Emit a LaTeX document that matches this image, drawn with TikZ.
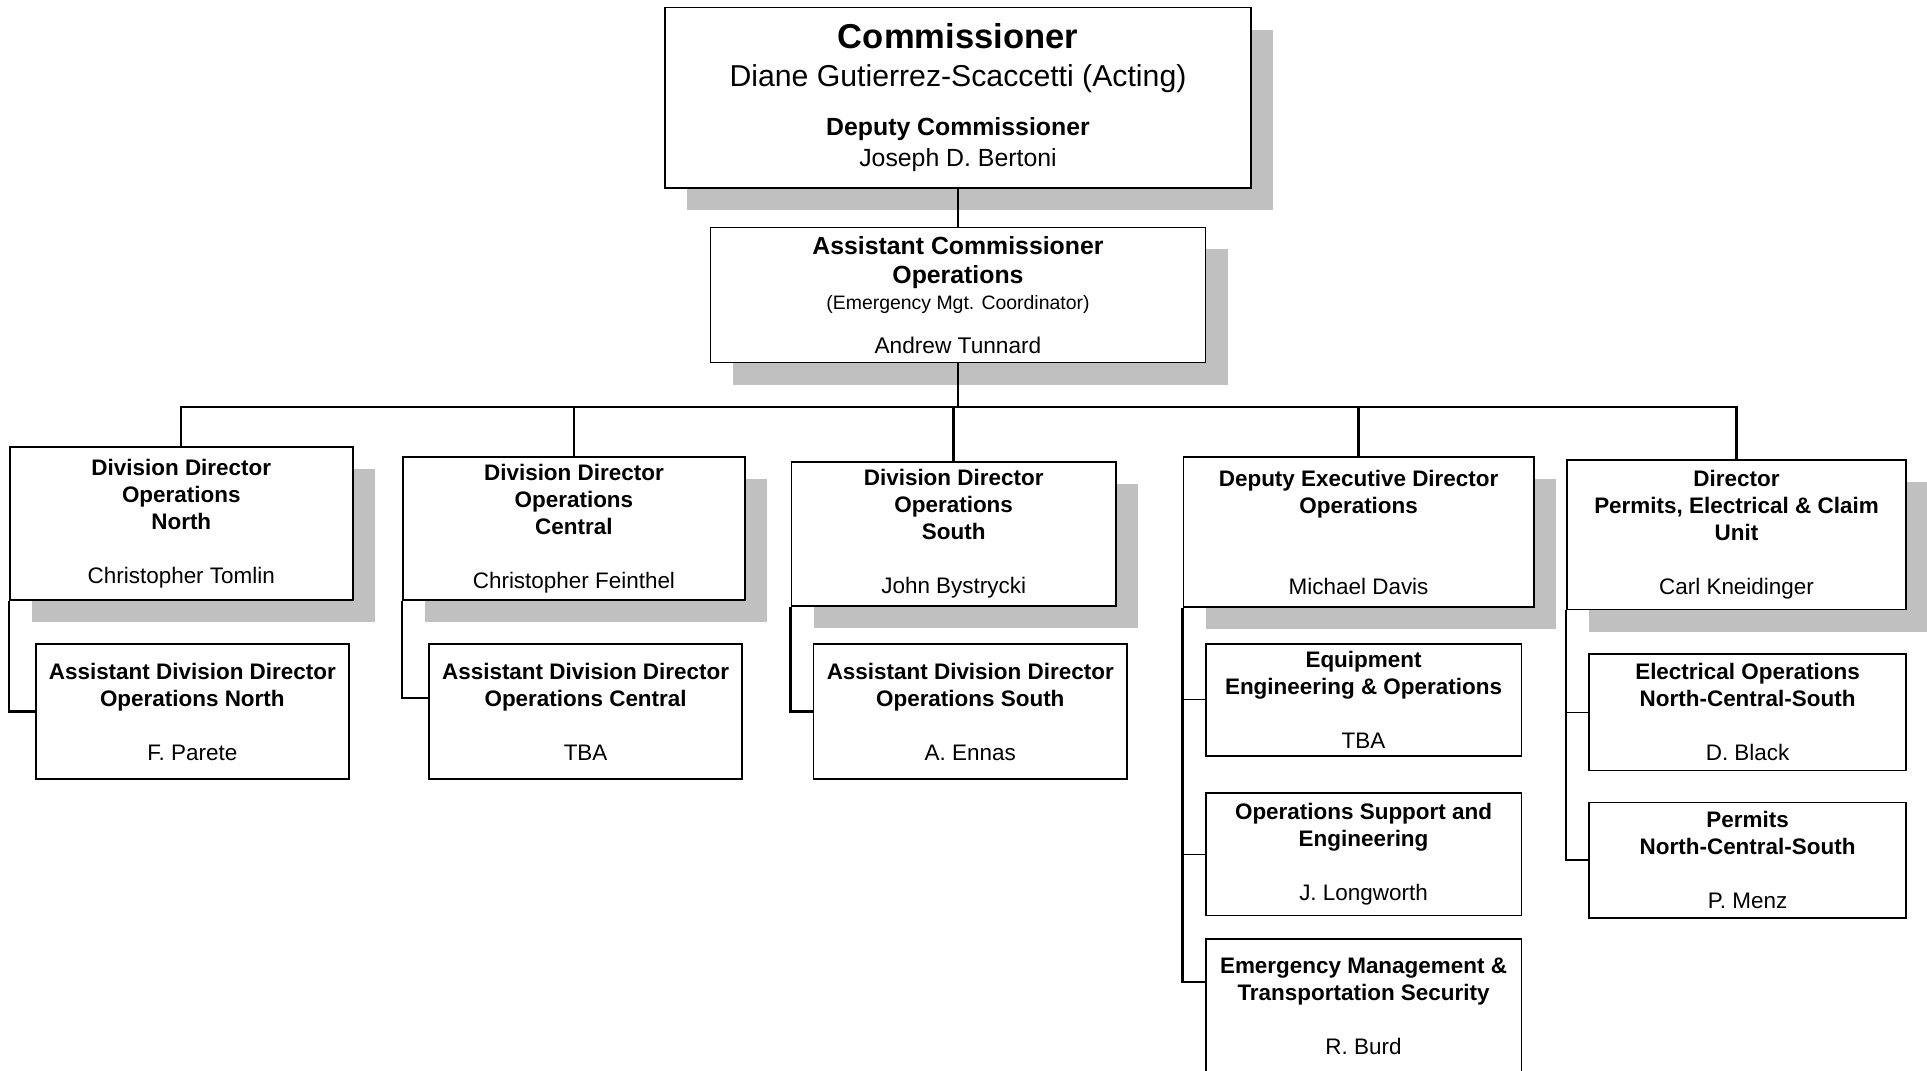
\documentclass[tikz,border=0pt]{standalone}
\usepackage{fontspec}
\setmainfont{Liberation Sans}
\usepackage{tikz}
\usetikzlibrary{shadows}
\definecolor{shadegray}{RGB}{192,192,192}

\begin{document}
\begin{tikzpicture}[x=0.02cm, y=-0.02cm]
	\tikzstyle{box} = [draw, line width=0.8pt, fill=white, align=center, inner sep=0pt, font=\fontsize{10.4}{12.5}\selectfont\bfseries]
	\tikzstyle{shadowbox} = [box, drop shadow={shadow xshift=0.36cm, shadow yshift=-0.36cm, fill=shadegray, opacity=1}]
	\tikzstyle{link} = [line width=1.1pt]
	\tikzstyle{tick} = [line width=0.5pt]
	\useasboundingbox (0,0) rectangle (1568,871);
	\node[shadowbox, minimum width=9.54cm, minimum height=2.94cm, font=\fontsize{11.5}{14.2}\selectfont] (comm) at (779.5,79.5)
		{\fontsize{16}{18}\selectfont\bfseries Commissioner\\[3.4pt]
		\fontsize{14}{17}\selectfont Diane Gutierrez-Scaccetti (Acting)\\[8.5pt]
		\bfseries Deputy Commissioner\\
		Joseph D. Bertoni};
	\node[shadowbox, minimum width=8.06cm, minimum height=2.2cm, font=\fontsize{11.5}{11.9}\selectfont\bfseries] (asst) at (779.5,240)
		{Assistant Commissioner\\[1.7pt]
		Operations\\
		\fontsize{9}{11}\selectfont\mdseries (Emergency Mgt. Coordinator)\\[8.5pt]
		\fontsize{10.5}{12}\selectfont\mdseries Andrew Tunnard};
	\node[shadowbox, minimum width=5.58cm, minimum height=2.48cm] (north) at (147.5,426)
		{Division Director\\Operations\\North\\[12.5pt]\mdseries Christopher Tomlin};
	\node[shadowbox, minimum width=5.56cm, minimum height=2.32cm] (central) at (467,430)
		{Division Director\\Operations\\Central\\[12.5pt]\mdseries Christopher Feinthel};
	\node[shadowbox, minimum width=5.28cm, minimum height=2.34cm] (south) at (776,434.5)
		{Division Director\\Operations\\South\\[12.5pt]\mdseries John Bystrycki};
	\node[shadowbox, minimum width=5.7cm, minimum height=2.44cm] (deputy) at (1105.5,433)
		{Deputy Executive Director\\Operations\\[25pt]\mdseries Michael Davis};
	\node[shadowbox, minimum width=5.52cm, minimum height=2.44cm] (director) at (1413,435)
		{Director\\Permits, Electrical \& Claim\\Unit\\[12.5pt]\mdseries Carl Kneidinger};
	\node[box, minimum width=5.1cm, minimum height=2.2cm] (asnorth) at (156.5,579)
		{Assistant Division Director\\Operations North\\[12.5pt]\mdseries F. Parete};
	\node[box, minimum width=5.1cm, minimum height=2.2cm] (ascentral) at (476.5,579)
		{Assistant Division Director\\Operations Central\\[12.5pt]\mdseries TBA};
	\node[box, minimum width=5.1cm, minimum height=2.2cm] (assouth) at (789.5,579)
		{Assistant Division Director\\Operations South\\[12.5pt]\mdseries A. Ennas};
	\node[box, minimum width=5.14cm, minimum height=1.82cm] (equip) at (1109.5,569.5)
		{Equipment\\Engineering \& Operations\\[12.5pt]\mdseries TBA};
	\node[box, minimum width=5.14cm, minimum height=2cm] (support) at (1109.5,695)
		{Operations Support and\\Engineering\\[12.5pt]\mdseries J. Longworth};
	\node[box, minimum width=5.14cm, minimum height=2.2cm] (emerg) at (1109.5,819)
		{Emergency Management \&\\Transportation Security\\[12.5pt]\mdseries R. Burd};
	\node[box, minimum width=5.16cm, minimum height=1.9cm] (elec) at (1422,579.5)
		{Electrical Operations\\North-Central-South\\[12.5pt]\mdseries D. Black};
	\node[box, minimum width=5.16cm, minimum height=1.88cm] (permits) at (1422,700)
		{Permits\\North-Central-South\\[12.5pt]\mdseries P. Menz};
	\coordinate (bus) at (779.5,331);
	\draw[tick] (comm) -- (asst);
	\draw[link] (asst) -- (bus);
	\foreach \n in {north,central,south,deputy,director}
		\draw[link] (bus) -| (\n.north);
	\draw[link] (north.south west) |- (asnorth.west);
	\draw[link] (central.south west) |- ([yshift=0.22cm]ascentral.west);
	\draw[link] (south.south west) |- (assouth.west);
	\draw[link] (deputy.south west) |- ([yshift=-0.72cm]emerg.north west);
	\draw[tick] (deputy.south west |- equip.west) -- (equip.west);
	\draw[tick] (deputy.south west |- support.west) -- (support.west);
	\draw[link] (director.south west) |- (permits.west);
	\draw[tick] (director.south west |- elec.west) -- (elec.west);
\end{tikzpicture}
\end{document}
